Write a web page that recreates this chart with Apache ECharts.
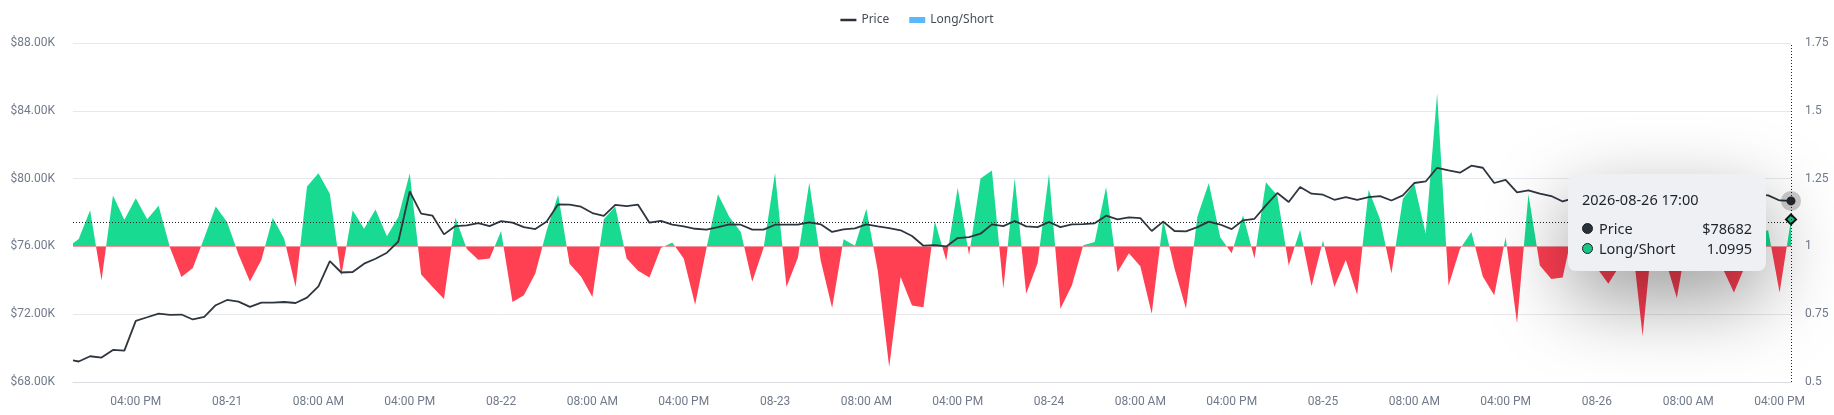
<!DOCTYPE html>
<html>
<head>
<meta charset="utf-8">
<script src="https://cdn.jsdelivr.net/npm/echarts@6/dist/echarts.min.js"></script>
<style>
html,body{margin:0;padding:0;background:#ffffff;}
#chart{width:1834px;height:415px;}
</style>
</head>
<body>
<div id="chart"></div>
<script>
// ---- data ----
const firstTime = '2026-08-20 10:30';
const hourlyStart = '2026-08-20 11:00';

const priceValues = [
  69270, 69210, 69520, 69440, 69890, 69850, 71610, 71820, 72040, 71960,
  71980, 71690, 71840, 72530, 72840, 72740, 72430, 72680, 72680, 72720,
  72660, 72980, 73640, 75130, 74460, 74490, 74980, 75270, 75630, 76290,
  79240, 77930, 77810, 76710, 77200, 77240, 77380, 77200, 77490, 77400,
  77140, 77020, 77470, 78480, 78460, 78340, 77970, 77800, 78450, 78380,
  78460, 77400, 77500, 77280, 77180, 77040, 76990, 77140, 77300, 77280,
  76990, 76990, 77280, 77280, 77280, 77420, 77300, 76850, 77000, 77060,
  77300, 77180, 77080, 76950, 76610, 76040, 76080, 76000, 76490, 76550,
  76750, 77300, 77200, 77500, 77180, 77140, 77440, 77140, 77300, 77320,
  77360, 77810, 77600, 77710, 77670, 76910, 77460, 76910, 76890, 77140,
  77460, 77290, 77020, 77540, 77630, 78420, 79150, 78620, 79500, 79110,
  79050, 78750, 78910, 78750, 78910, 78970, 78710, 79010, 79740, 79830,
  80640, 80480, 80350, 80760, 80640, 79740, 79930, 79190, 79300, 79110,
  78970, 78650, 78850, 78900, 79100, 78950, 78800, 79000, 78700, 78900,
  79150, 78950, 79000, 79200, 79050, 78900, 78800, 79000, 79050, 79010,
  78710, 78682
];

const ratioValues = [
  1.012, 1.027, 1.133, 0.875, 1.188, 1.098, 1.178, 1.100, 1.150, 0.995,
  0.887, 0.920, 1.032, 1.147, 1.090, 0.970, 0.871, 0.950, 1.106, 1.028,
  0.850, 1.221, 1.270, 1.194, 0.892, 1.133, 1.065, 1.136, 1.037, 1.108,
  1.270, 0.896, 0.850, 0.806, 1.106, 0.990, 0.951, 0.955, 1.057, 0.795,
  0.820, 0.900, 1.060, 1.190, 0.936, 0.889, 0.813, 1.100, 1.147, 0.955,
  0.910, 0.885, 0.994, 1.014, 0.955, 0.785, 0.995, 1.192, 1.108, 1.053,
  0.870, 0.995, 1.272, 0.850, 0.958, 1.236, 0.948, 0.773, 1.026, 1.002,
  1.139, 0.910, 0.555, 0.887, 0.782, 0.776, 1.093, 0.948, 1.216, 0.967,
  1.250, 1.280, 0.844, 1.252, 0.825, 0.938, 1.268, 0.770, 0.856, 1.004,
  1.016, 1.219, 0.905, 0.975, 0.927, 0.752, 1.098, 0.918, 0.770, 1.110,
  1.234, 1.034, 0.975, 1.115, 0.955, 1.237, 1.188, 0.930, 1.061, 0.853,
  1.022, 0.850, 0.950, 0.822, 1.209, 1.100, 0.900, 1.176, 1.231, 1.047,
  1.565, 0.855, 0.990, 1.053, 0.889, 0.820, 1.034, 0.717, 1.192, 0.930,
  0.880, 0.885, 1.080, 1.120, 0.920, 0.862, 0.930, 1.050, 0.670, 1.100,
  0.950, 0.810, 1.050, 1.150, 1.020, 0.920, 0.830, 0.930, 1.050, 1.060,
  0.830, 1.0995
];

const xTickTimes = [
  '2026-08-20 16:00',
  '2026-08-21 00:00', '2026-08-21 08:00', '2026-08-21 16:00',
  '2026-08-22 00:00', '2026-08-22 08:00', '2026-08-22 16:00',
  '2026-08-23 00:00', '2026-08-23 08:00', '2026-08-23 16:00',
  '2026-08-24 00:00', '2026-08-24 08:00', '2026-08-24 16:00',
  '2026-08-25 00:00', '2026-08-25 08:00', '2026-08-25 16:00',
  '2026-08-26 00:00', '2026-08-26 08:00', '2026-08-26 16:00'
];
const priceTicks = [68000, 72000, 76000, 80000, 84000, 88000];
const ratioTicks = [0.5, 0.75, 1, 1.25, 1.5, 1.75];

// ---- helpers ----
function parseTime(s) {
  const parts = s.split(' ');
  const d = parts[0].split('-').map(Number);
  const t = parts[1].split(':').map(Number);
  return new Date(d[0], d[1] - 1, d[2], t[0], t[1]).getTime();
}
function pad2(n) { return (n < 10 ? '0' : '') + n; }

const times = [parseTime(firstTime)];
const h0 = parseTime(hourlyStart);
for (let k = 0; k < priceValues.length - 1; k++) times.push(h0 + k * 3600000);

function fmtX(v) {
  const d = new Date(v);
  const h = d.getHours(), m = d.getMinutes();
  if (h === 0 && m === 0) return pad2(d.getMonth() + 1) + '-' + pad2(d.getDate());
  const h12 = (h % 12) || 12;
  return pad2(h12) + ':' + pad2(m) + ' ' + (h < 12 ? 'AM' : 'PM');
}
function fmtFull(v) {
  const d = new Date(v);
  return d.getFullYear() + '-' + pad2(d.getMonth() + 1) + '-' + pad2(d.getDate()) + ' ' +
    pad2(d.getHours()) + ':' + pad2(d.getMinutes());
}

const GREEN = '#16c784';
const RED = '#f33a4b';
const DARK = '#2b3139';

const chart = echarts.init(document.getElementById('chart'), null, { renderer: 'canvas' });

function row(color, name, val) {
  return '<div style="display:flex;justify-content:space-between;align-items:center;line-height:20px;min-width:170px;">' +
    '<span style="display:flex;align-items:center;">' +
    '<span style="display:inline-block;width:9px;height:9px;border-radius:50%;background:' + color +
    ';border:1.5px solid #1e2329;margin-right:6px;"></span>' + name + '</span>' +
    '<span style="margin-left:24px;">' + val + '</span></div>';
}

const option = {
  animation: false,
  backgroundColor: '#ffffff',
  grid: { left: 73, right: 43, top: 43, bottom: 33, containLabel: false },
  legend: {
    top: 9,
    left: 'center',
    itemWidth: 16,
    itemHeight: 6,
    itemGap: 20,
    textStyle: { fontFamily: 'Noto Sans', fontSize: 12, color: '#474d57' },
    data: [
      { name: 'Price', icon: 'path://M0,0H16V2.5H0Z', itemStyle: { color: DARK, borderWidth: 0, opacity: 1 } },
      { name: 'Long/Short', icon: 'rect', itemStyle: { color: '#5ab8ff', borderWidth: 0, opacity: 1 } }
    ]
  },
  tooltip: {
    trigger: 'axis',
    alwaysShowContent: true,
    transitionDuration: 0,
    backgroundColor: '#eef0f3',
    borderWidth: 0,
    borderRadius: 8,
    padding: [15, 14, 13, 14],
    extraCssText: 'box-shadow:0 28px 80px rgba(0,0,0,0.4);',
    textStyle: { fontFamily: 'Noto Sans', fontSize: 14.5, color: '#1e2329' },
    axisPointer: {
      type: 'cross',
      label: { show: false },
      crossStyle: { color: '#1e2329', width: 1, type: [1, 2] },
      lineStyle: { color: '#1e2329', width: 1, type: [1, 2] }
    },
    position: function (pt, params, dom, rect, size) {
      return [pt[0] - size.contentSize[0] - 25, pt[1] - size.contentSize[1] / 2];
    },
    formatter: function (params) {
      let price = null, ratio = null, t = null;
      params.forEach(function (p) {
        t = p.value[0];
        if (p.seriesName === 'Price') price = p.value[1];
        if (p.seriesName === 'Long/Short') ratio = p.value[1];
      });
      return '<div style="line-height:20px;margin-bottom:9px;">' + fmtFull(t) + '</div>' +
        row(DARK, 'Price', '$' + Math.round(price)) +
        row(ratio > 1 ? GREEN : RED, 'Long/Short', ratio.toFixed(4));
    }
  },
  visualMap: {
    show: false,
    type: 'piecewise',
    seriesIndex: 0,
    dimension: 1,
    pieces: [
      { gte: 0, lte: 1, color: RED },
      { gt: 1, lte: 10, color: GREEN }
    ],
    outOfRange: { color: GREEN }
  },
  xAxis: {
    type: 'value',
    min: times[0],
    max: times[times.length - 1],
    axisLine: { show: true, lineStyle: { color: '#d9dce1', width: 1 } },
    axisTick: { show: false },
    splitLine: { show: false },
    axisPointer: { snap: true },
    axisLabel: {
      customValues: xTickTimes.map(parseTime),
      formatter: fmtX,
      color: '#707a8a',
      fontFamily: 'Roboto',
      fontSize: 12,
      margin: 14
    }
  },
  yAxis: [
    {
      type: 'value',
      position: 'left',
      min: priceTicks[0],
      max: priceTicks[priceTicks.length - 1],
      interval: priceTicks[1] - priceTicks[0],
      axisLine: { show: false },
      axisTick: { show: false },
      splitLine: { show: true, lineStyle: { color: '#e6e8eb', width: 1 } },
      axisPointer: { snap: false },
      axisLabel: {
        color: '#707a8a',
        fontFamily: 'Roboto',
        fontSize: 12,
        margin: 18,
        formatter: function (v) { return '$' + (v / 1000).toFixed(2) + 'K'; }
      }
    },
    {
      type: 'value',
      position: 'right',
      min: ratioTicks[0],
      max: ratioTicks[ratioTicks.length - 1],
      interval: ratioTicks[1] - ratioTicks[0],
      axisLine: { show: false },
      axisTick: { show: false },
      splitLine: { show: false },
      axisPointer: { snap: false },
      axisLabel: {
        color: '#707a8a',
        fontFamily: 'Roboto',
        fontSize: 12,
        margin: 14
      }
    }
  ],
  series: [
    {
      name: 'Long/Short',
      type: 'line',
      yAxisIndex: 1,
      data: times.map(function (t, i) { return [t, ratioValues[i]]; }),
      symbol: 'diamond',
      symbolSize: 10,
      showSymbol: false,
      itemStyle: { color: '#5ab8ff' },
      lineStyle: { width: 1, opacity: 0 },
      areaStyle: { opacity: 1, origin: 1 },
      emphasis: {
        scale: false,
        lineStyle: { width: 1, opacity: 0 },
        areaStyle: { opacity: 1 },
        itemStyle: { borderColor: '#111418', borderWidth: 2 }
      }
    },
    {
      name: 'Price',
      type: 'line',
      yAxisIndex: 0,
      data: times.map(function (t, i) { return [t, priceValues[i]]; }),
      symbol: 'circle',
      symbolSize: 9,
      showSymbol: false,
      itemStyle: { color: DARK },
      lineStyle: { color: DARK, width: 1.8 },
      emphasis: {
        scale: false,
        lineStyle: { width: 1.8 },
        itemStyle: { color: DARK, borderColor: 'rgba(0,0,0,0.2)', borderWidth: 11 }
      }
    }
  ]
};

chart.setOption(option);

function showLastTip() {
  const last = times.length - 1;
  const px = chart.convertToPixel({ seriesIndex: 0 }, [times[last], ratioValues[last]]);
  chart.dispatchAction({ type: 'showTip', x: px[0] - 0.5, y: px[1] + 3 });
}
showLastTip();
setTimeout(showLastTip, 50);
</script>
</body>
</html>
